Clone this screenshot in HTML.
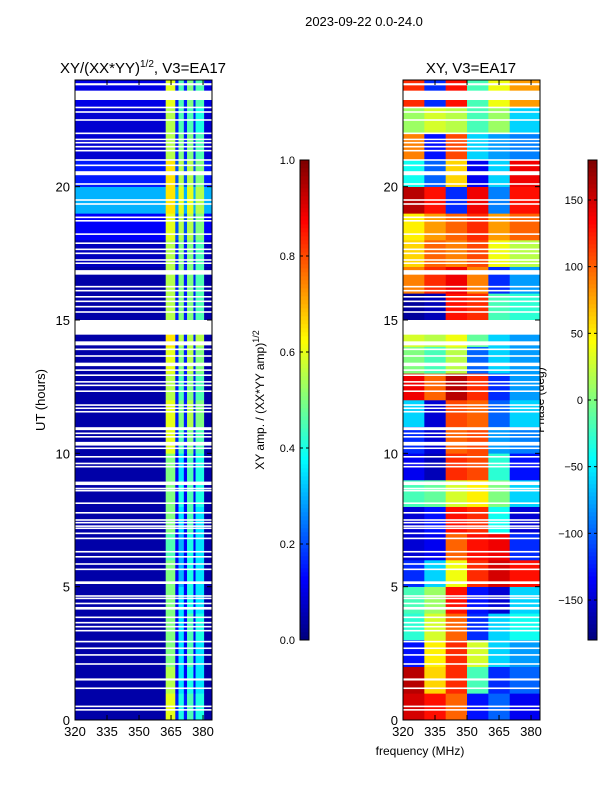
<!DOCTYPE html>
<html><head><meta charset="utf-8"><style>
html,body{margin:0;padding:0;background:#fff;}
svg{display:block;font-family:"Liberation Sans",sans-serif;}
</style></head><body>
<svg id="chart" width="600" height="800" viewBox="0 0 600 800">
<text x="364" y="26" font-size="13" text-anchor="middle">2023-09-22 0.0-24.0</text>
<text x="143" y="73" font-size="15" text-anchor="middle">XY/(XX*YY)<tspan dy="-6" font-size="10">1/2</tspan><tspan dy="6">, V3=EA17</tspan></text>
<text x="471" y="73" font-size="15" text-anchor="middle">XY, V3=EA17</text>
<text transform="translate(45,400) rotate(-90)" font-size="13" text-anchor="middle">UT (hours)</text>
<text x="420" y="755" font-size="12" text-anchor="middle">frequency (MHz)</text>
<text transform="translate(264,400) rotate(-90)" font-size="12" text-anchor="middle">XY amp. / (XX*YY amp)<tspan dy="-5" font-size="9">1/2</tspan></text>
<text transform="translate(544,400) rotate(-90)" font-size="12" text-anchor="middle">Phase (deg)</text>
<g id="left"></g>
<g id="right"></g>
<g id="cb1"></g>
<g id="cb2"></g>
<g id="axes"></g>
</svg>
<script>
// ---- data ----
const hours = [0,1,2,3,4,5,6,7,8,9,10,11,12,13,14,15,16,17,18,19,20,21,22,23];
// amplitude bands (MHz edges): bg | b1 | gap | b2 | gap | b3 | gap | b4 | edge
const ampEdges = [320,362.5,367,368.5,371,372.5,375.5,376.5,380.5,384.2];
const ampBg = [.04,.04,.04,.04,.04,.04,.04,.04,.04,.04,.04,.04,.04,.04,.04,.04,.04,.06,.12,.3,.15,.08,.08,.1];
const ampB1 = [.6,.55,.5,.5,.5,.5,.45,.5,.5,.5,.6,.6,.55,.6,.65,.55,.55,.55,.6,.65,.65,.55,.55,.6];
const ampB2 = [.4,.35,.35,.35,.35,.3,.3,.35,.4,.35,.45,.5,.45,.5,.55,.5,.5,.5,.55,.6,.55,.5,.45,.45];
const ampB3 = [.45,.4,.45,.45,.4,.4,.4,.45,.45,.45,.5,.55,.5,.55,.55,.5,.5,.5,.55,.6,.55,.5,.45,.5];
const ampB4 = [.4,.35,.35,.4,.35,.35,.35,.35,.4,.4,.45,.5,.45,.5,.55,.45,.45,.45,.5,.55,.5,.45,.4,.45];
const ampGap = [.15,.12,.12,.12,.12,.12,.12,.12,.12,.12,.15,.15,.15,.15,.15,.15,.15,.15,.2,.3,.2,.15,.15,.15];
// phase bands (MHz edges) and per-hour phase (deg)
const phEdges = [320,330,340,350,360,370,384.2];
const phase = [
 [150,130,100,-130,-100,-140],[160,60,120,-20,-120,-100],[-130,50,120,30,-60,-80],[-30,30,100,-120,-60,-40],
 [-20,10,130,-130,-150,-60],[-120,-60,40,120,150,130],[-150,-140,100,130,140,-120],[-150,-130,130,120,-40,-150],
 [-20,-10,30,50,0,-60],[-140,-160,120,110,-30,-130],[-120,-150,100,110,-80,-90],[-60,-150,110,100,-100,-60],
 [140,100,160,120,-120,-80],[0,-20,20,-100,-60,-80],[30,20,40,-10,-60,-80],[-170,-160,130,120,-20,-30],
 [90,120,140,90,-120,-80],[60,100,90,110,40,20],[50,80,100,120,80,100],[160,130,-120,140,-90,130],
 [-40,-100,60,-140,-60,140],[90,-130,110,-60,-80,-90],[10,30,20,-20,10,-60],[120,-120,130,-20,40,80]];
// flagged (white) time ranges [start,end] UT hours
const gaps = [[23.8,23.88],[23.25,23.6],[22.94,23.0],[22.77,22.83],[22.47,22.53],[21.97,22.03],[21.75,21.8],[21.62,21.68],[21.47,21.53],
 [21.32,21.38],[20.97,21.03],[20.77,20.83],[20.43,20.58],[20.07,20.13],[19.47,19.53],[19.32,19.38],[18.82,18.88],[18.69,18.75],
 [18.19,18.25],[17.85,17.91],[17.62,17.68],[17.47,17.53],[17.22,17.28],[17.1,17.16],[16.7,16.87],[16.22,16.28],[16.07,16.13],
 [15.84,15.9],[15.67,15.73],[15.47,15.53],[15.27,15.33],[14.45,15.0],[14.05,14.2],[13.87,13.93],[13.62,13.68],[13.27,13.4],
 [13.09,13.15],[12.9,12.96],[12.65,12.71],[12.52,12.58],[12.3,12.36],[11.78,11.84],[11.66,11.72],[11.53,11.59],[10.87,10.98],
 [10.72,10.78],[10.59,10.65],[10.29,10.43],[10.16,10.22],[9.84,9.9],[9.59,9.65],[9.47,9.53],[8.81,8.94],[8.65,8.71],[8.57,8.63],
 [8.1,8.16],[7.74,7.8],[7.47,7.53],[7.37,7.43],[7.24,7.3],[7.16,7.22],[6.97,7.03],[6.78,6.84],[6.28,6.34],[6.09,6.15],[5.82,5.88],
 [5.62,5.68],[5.1,5.2],[4.62,4.68],[4.53,4.59],[4.34,4.4],[4.14,4.24],[3.82,3.88],[3.62,3.68],[3.47,3.53],[3.32,3.38],[2.91,2.97],
 [2.66,2.72],[2.41,2.47],[2.07,2.13],[1.48,1.56],[1.16,1.22],[0.48,0.54],[0.35,0.41]];
const ampTicks = [0,0.2,0.4,0.6,0.8,1.0];
const phaseTicks = [-150,-100,-50,0,50,100,150];
const freqTicks = [320,335,350,365,380];
const utTicks = [0,5,10,15,20];

// ---- helpers ----
const NS = "http://www.w3.org/2000/svg";
function jet(v){v=Math.max(0,Math.min(1,v));
 const r=Math.max(0,Math.min(1,1.5-Math.abs(4*v-3))),g=Math.max(0,Math.min(1,1.5-Math.abs(4*v-2))),b=Math.max(0,Math.min(1,1.5-Math.abs(4*v-1)));
 return `rgb(${Math.round(r*255)},${Math.round(g*255)},${Math.round(b*255)})`;}
function mk(tag,attrs,parent){const e=document.createElementNS(NS,tag);for(const k in attrs)e.setAttribute(k,attrs[k]);parent.appendChild(e);return e;}
const yUT = h => 720 - (h/24)*640;
const xF = (f,x0) => x0 + (f-320)*(137/64.2);

const L=document.getElementById('left'),R=document.getElementById('right');
hours.forEach((h,i)=>{
 const vals=[ampBg[i],ampB1[i],ampGap[i],ampB2[i],ampGap[i],ampB3[i],ampGap[i],ampB4[i],ampBg[i]];
 for(let j=0;j<vals.length;j++){
  const r=mk('rect',{x:xF(ampEdges[j],75),y:yUT(h+1),width:xF(ampEdges[j+1],75)-xF(ampEdges[j],75)+0.3,height:yUT(h)-yUT(h+1)+0.3,fill:jet(vals[j])},L);
  
  
 }
});
hours.forEach((h,i)=>{
 for(let j=0;j<phase[i].length;j++){
  const r=mk('rect',{x:xF(phEdges[j],403),y:yUT(h+1),width:xF(phEdges[j+1],403)-xF(phEdges[j],403)+0.3,height:yUT(h)-yUT(h+1)+0.3,fill:jet((phase[i][j]+180)/360)},R);
  
  
 }
});
gaps.forEach(g=>{
 [75,403].forEach(x0=>{
  const r=mk('rect',{x:x0,y:yUT(g[1]),width:137,height:Math.max(1.5,yUT(g[0])-yUT(g[1])),fill:'#fff'},x0===75?L:R);
  
  
 });
});
function colorbar(g,x,lo,hi,ticks){
 for(let k=0;k<120;k++){
  mk('rect',{x:x,y:640-(k+1)*4,width:9,height:4.3,fill:jet(k/119)},g);
 }
 mk('rect',{x:x,y:160,width:9,height:480,fill:'none',stroke:'#000','stroke-width':1},g);
 ticks.forEach(t=>{
  const y=640-(t-lo)/(hi-lo)*480;
  mk('line',{x1:x,x2:x+3,y1:y,y2:y,stroke:'#000'},g);
  mk('line',{x1:x+9,x2:x+6,y1:y,y2:y,stroke:'#000'},g);
  const tx=mk('text',{x:x-5,y:y+4,'font-size':11,'text-anchor':'end'},g);
  tx.textContent=(lo===0?t.toFixed(1):(t<0?'\u2212'+Math.abs(t):t));
  
  
 });
}
colorbar(document.getElementById('cb1'),300,0,1,ampTicks);
colorbar(document.getElementById('cb2'),588,-180,180,phaseTicks);
const A=document.getElementById('axes');
[75,403].forEach(x0=>{
 mk('rect',{x:x0,y:80,width:137,height:640,fill:'none',stroke:'#000','stroke-width':1},A);
 freqTicks.forEach(f=>{
  const x=xF(f,x0);
  mk('line',{x1:x,x2:x,y1:720,y2:715,stroke:'#000'},A);
  mk('line',{x1:x,x2:x,y1:80,y2:85,stroke:'#000'},A);
  const t=mk('text',{x:x,y:736,'font-size':13,'text-anchor':'middle'},A);
  t.textContent=f;
  
  
 });
 utTicks.forEach(u=>{
  const y=yUT(u);
  mk('line',{x1:x0,x2:x0+5,y1:y,y2:y,stroke:'#000'},A);
  mk('line',{x1:x0+137,x2:x0+132,y1:y,y2:y,stroke:'#000'},A);
  const t=mk('text',{x:x0-5,y:y+5,'font-size':13,'text-anchor':'end'},A);
  t.textContent=u;
  
  
 });
});
</script>
</body></html>
